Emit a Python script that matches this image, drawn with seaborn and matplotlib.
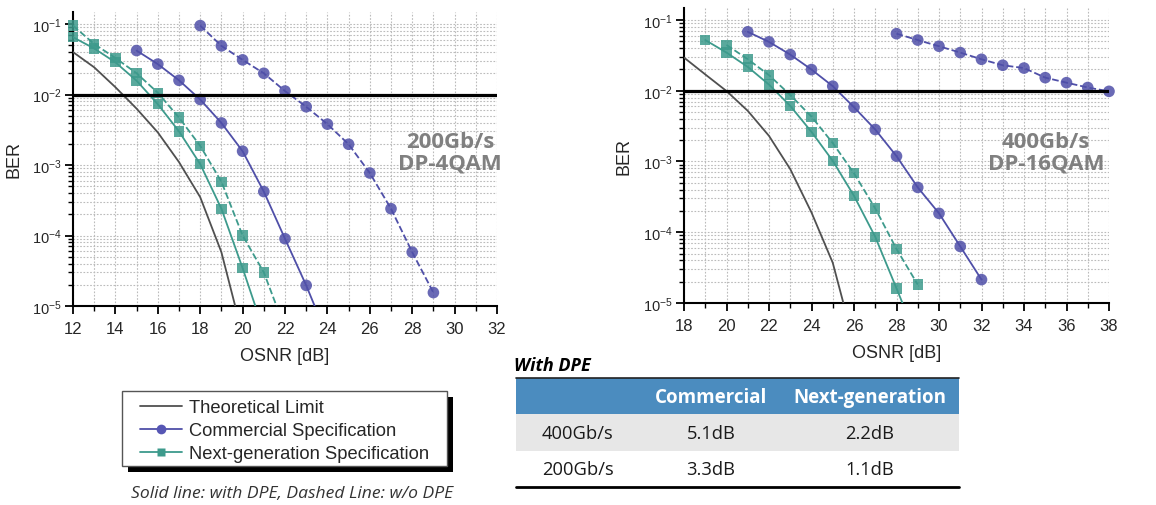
import numpy as np
import matplotlib
matplotlib.use("Agg")
import matplotlib.pyplot as plt
import seaborn as sns
from matplotlib.lines import Line2D
from matplotlib.patches import Rectangle
from matplotlib.ticker import MultipleLocator, LogLocator, NullFormatter

sns.set_style("white")
plt.rcParams["font.family"] = ["Liberation Sans", "DejaVu Sans"]
plt.rcParams["mathtext.default"] = "regular"

# ── data (OSNR in dB, BER) ────────────────────────────────────────────────────
BER_FLOOR = 1e-5      # curves run down to the bottom of the plot
FEC_LIMIT = 1e-2

# 200Gb/s DP-4QAM
th200_osnr = [12, 13, 14, 15, 16, 17, 18, 19, 19.65]
th200_ber = [0.040, 0.0243, 0.0127, 0.0063, 0.0029, 0.0011, 3.5e-4, 5.8e-5, 1e-5]
com200_dpe_osnr = [15, 16, 17, 18, 19, 20, 21, 22, 23]
com200_dpe_ber = [0.042, 0.027, 0.0159, 0.0085, 0.00395, 0.00157, 4.2e-4, 9.0e-5, 1.96e-5]
com200_dpe_end = 23.4
com200_raw_osnr = [18, 19, 20, 21, 22, 23, 24, 25, 26, 27, 28, 29]
com200_raw_ber = [0.095, 0.049, 0.031, 0.020, 0.0112, 0.0067, 0.0038, 0.00197,
                  7.7e-4, 2.4e-4, 5.8e-5, 1.55e-5]
ng200_dpe_osnr = [12, 13, 14, 15, 16, 17, 18, 19, 20]
ng200_dpe_ber = [0.065, 0.045, 0.0286, 0.0157, 0.0073, 0.0030, 0.00103, 2.4e-4, 3.45e-5]
ng200_dpe_end = 20.6
ng200_raw_osnr = [12, 13, 14, 15, 16, 17, 18, 19, 20, 21]
ng200_raw_ber = [0.095, 0.052, 0.033, 0.020, 0.0106, 0.0047, 0.00187, 5.8e-4, 1.0e-4, 3.0e-5]
ng200_raw_end = 21.6

# 400Gb/s DP-16QAM
th400_osnr = [18, 19, 20, 21, 22, 23, 24, 25, 25.5]
th400_ber = [0.0294, 0.017, 0.0099, 0.0052, 0.0023, 7.8e-4, 1.9e-4, 3.7e-5, 1e-5]
com400_dpe_osnr = [21, 22, 23, 24, 25, 26, 27, 28, 29, 30, 31, 32]
com400_dpe_ber = [0.068, 0.049, 0.0324, 0.0199, 0.0116, 0.00585, 0.00283, 0.00119,
                  4.3e-4, 1.85e-4, 6.3e-5, 2.14e-5]
com400_raw_osnr = [28, 29, 30, 31, 32, 33, 34, 35, 36, 37, 38]
com400_raw_ber = [0.064, 0.052, 0.0425, 0.0346, 0.0278, 0.0229, 0.0209, 0.0153,
                  0.0130, 0.0111, 0.0098]
ng400_dpe_osnr = [19, 20, 21, 22, 23, 24, 25, 26, 27, 28]
ng400_dpe_ber = [0.052, 0.0346, 0.0217, 0.0122, 0.0061, 0.00262, 0.00102, 3.27e-4, 8.6e-5, 1.61e-5]
ng400_dpe_end = 28.28
ng400_raw_osnr = [20, 21, 22, 23, 24, 25, 26, 27, 28, 29]
ng400_raw_ber = [0.0444, 0.0279, 0.0166, 0.0087, 0.0043, 0.00182, 6.8e-4, 2.17e-4, 5.8e-5, 1.82e-5]

legend_labels = ["Theoretical Limit", "Commercial Specification", "Next-generation Specification"]
panel_labels = ["200Gb/s\nDP-4QAM", "400Gb/s\nDP-16QAM"]

table_title = "With DPE"
table_cols = ["Commercial", "Next-generation"]
table_rows = ["400Gb/s", "200Gb/s"]
gain_commercial = ["5.1dB", "3.3dB"]
gain_nextgen = ["2.2dB", "1.1dB"]
caption = "Solid line: with DPE, Dashed Line: w/o DPE"

PURPLE = "#4f4fa8"
PURPLE_MK = "#5656b4"
TEAL = "#3d9a8c"
GREY = "#505050"

W, H = 1156, 506
fig = plt.figure(figsize=(W / 100, H / 100), dpi=100)


def px_axes(x0, y0, x1, y1):
    return fig.add_axes([x0 / W, 1 - y1 / H, (x1 - x0) / W, (y1 - y0) / H])


def curve(ax, x, y, color, ls="-", end=None, marker=None, size=60):
    lx, ly = list(x), list(y)
    if end is not None:
        lx.append(end)
        ly.append(BER_FLOOR)
    sns.lineplot(x=lx, y=ly, ax=ax, color=color, linestyle=ls, linewidth=1.3,
                 sort=False, estimator=None, zorder=3)
    if marker:
        sns.scatterplot(x=x, y=y, ax=ax, marker=marker, s=size, color=color,
                        edgecolor="none", alpha=0.85, zorder=4, clip_on=False)


def style_panel(ax, xlim, label, lx, ly):
    ax.set_yscale("log")
    ax.set_xlim(*xlim)
    ax.set_ylim(1e-5, 0.15)
    ax.axhline(FEC_LIMIT, color="black", linewidth=2.3, zorder=5)
    ax.xaxis.set_major_locator(MultipleLocator(2))
    ax.xaxis.set_minor_locator(MultipleLocator(1))
    ax.yaxis.set_major_locator(LogLocator(base=10, numticks=10))
    ax.yaxis.set_minor_locator(LogLocator(base=10, subs=np.arange(2, 10), numticks=20))
    ax.yaxis.set_minor_formatter(NullFormatter())
    ax.grid(which="both", linestyle=(0, (1.5, 1.5)), color="#bbbbbb", linewidth=0.8, zorder=0)
    for s in ["top", "right"]:
        ax.spines[s].set_visible(False)
    for s in ["left", "bottom"]:
        ax.spines[s].set_color("black")
        ax.spines[s].set_linewidth(1.5)
    ax.tick_params(which="both", bottom=True, left=True, top=False, right=False)
    ax.tick_params(which="major", direction="out", length=6, width=1.3, color="black")
    ax.tick_params(which="minor", direction="out", length=3.5, width=1.0, color="black")
    ax.tick_params(axis="x", labelsize=12, pad=5)
    ax.tick_params(axis="y", labelsize=10.5, pad=2)
    ax.set_xlabel("OSNR [dB]", fontsize=13, labelpad=8)
    ax.set_ylabel("BER", fontsize=13)
    ax.yaxis.set_label_coords(-51 / 424, 0.5)
    ax.text(lx, ly, label, transform=ax.transAxes, ha="center", va="center",
            fontsize=16, fontweight="bold", color="#808080", family="Open Sans",
            linespacing=1.05, zorder=6)


# ── left panel: 200G ─────────────────────────────────────────────────────────
ax1 = px_axes(73, 12.6, 497, 307)
curve(ax1, th200_osnr, th200_ber, GREY)
curve(ax1, ng200_raw_osnr, ng200_raw_ber, TEAL, "--", ng200_raw_end, "s", 55)
curve(ax1, ng200_dpe_osnr, ng200_dpe_ber, TEAL, "-", ng200_dpe_end, "s", 55)
curve(ax1, com200_raw_osnr, com200_raw_ber, PURPLE, "--", None, "o", 70)
curve(ax1, com200_dpe_osnr, com200_dpe_ber, PURPLE, "-", com200_dpe_end, "o", 70)
style_panel(ax1, (12, 32), panel_labels[0], 0.889, 0.523)

# ── right panel: 400G ────────────────────────────────────────────────────────
ax2 = px_axes(684, 8.5, 1109, 304)
curve(ax2, th400_osnr, th400_ber, GREY)
curve(ax2, ng400_raw_osnr, ng400_raw_ber, TEAL, "--", None, "s", 55)
curve(ax2, ng400_dpe_osnr, ng400_dpe_ber, TEAL, "-", ng400_dpe_end, "s", 55)
curve(ax2, com400_raw_osnr, com400_raw_ber, PURPLE, "--", None, "o", 70)
curve(ax2, com400_dpe_osnr, com400_dpe_ber, PURPLE, "-", None, "o", 70)
style_panel(ax2, (18, 38), panel_labels[1], 0.852, 0.511)


# ── legend with drop shadow ──────────────────────────────────────────────────
def fig_rect(x0, y0, x1, y1, **kw):
    r = Rectangle((x0 / W, 1 - y1 / H), (x1 - x0) / W, (y1 - y0) / H,
                  transform=fig.transFigure, **kw)
    fig.add_artist(r)
    return r


fig_rect(128, 398, 453, 473, facecolor="black", edgecolor="none", zorder=1)
fig_rect(122, 392, 447, 467, facecolor="white", edgecolor="#555555", linewidth=1.0, zorder=2)

handles = [
    Line2D([], [], color=GREY, linewidth=1.3),
    Line2D([], [], color=PURPLE, linewidth=1.3, marker="o", markersize=7,
           markerfacecolor=PURPLE_MK, markeredgecolor="none"),
    Line2D([], [], color=TEAL, linewidth=1.3, marker="s", markersize=6,
           markerfacecolor=TEAL, markeredgecolor="none"),
]
leg = fig.legend(handles, legend_labels, loc="upper left",
                 bbox_to_anchor=(140 / W, 1 - 400 / H), frameon=False,
                 borderpad=0, borderaxespad=0, fontsize=13.2, handlelength=2.3,
                 handletextpad=0.35, labelspacing=0.34)
leg.set_zorder(3)

fig.text(292 / W, 1 - 494 / H, caption, ha="center", va="center", fontsize=12.6,
         style="italic", color="#333333", family="Open Sans")

# ── DPE gain table ───────────────────────────────────────────────────────────
fig.text(514 / W, 1 - 366 / H, table_title, ha="left", va="center", fontsize=13,
         fontweight="bold", style="italic", color="black", family="Open Sans")
fig_rect(516, 379, 959, 415, facecolor="#4b8cbf", edgecolor="none")
fig_rect(516, 415, 959, 452, facecolor="#e7e7e7", edgecolor="none")
fig.add_artist(Line2D([516 / W, 959 / W], [1 - 379 / H] * 2, color="#222222",
                      linewidth=1.2, transform=fig.transFigure))
fig.add_artist(Line2D([516 / W, 959 / W], [1 - 488 / H] * 2, color="black",
                      linewidth=2.0, transform=fig.transFigure))

col_x = [711, 870]
for cx, name in zip(col_x, table_cols):
    fig.text(cx / W, 1 - 398 / H, name, ha="center", va="center", fontsize=13.5,
             fontweight="bold", color="white", family="Open Sans")
row_y = [434, 470]
for ry, rname, g1, g2 in zip(row_y, table_rows, gain_commercial, gain_nextgen):
    fig.text(542 / W, 1 - ry / H, rname, ha="left", va="center", fontsize=13.2,
             color="#1a1a1a", family="Open Sans")
    fig.text(col_x[0] / W, 1 - ry / H, g1, ha="center", va="center", fontsize=13.2,
             color="#1a1a1a", family="Open Sans")
    fig.text(col_x[1] / W, 1 - ry / H, g2, ha="center", va="center", fontsize=13.2,
             color="#1a1a1a", family="Open Sans")

fig.savefig("out.png", dpi=100)
